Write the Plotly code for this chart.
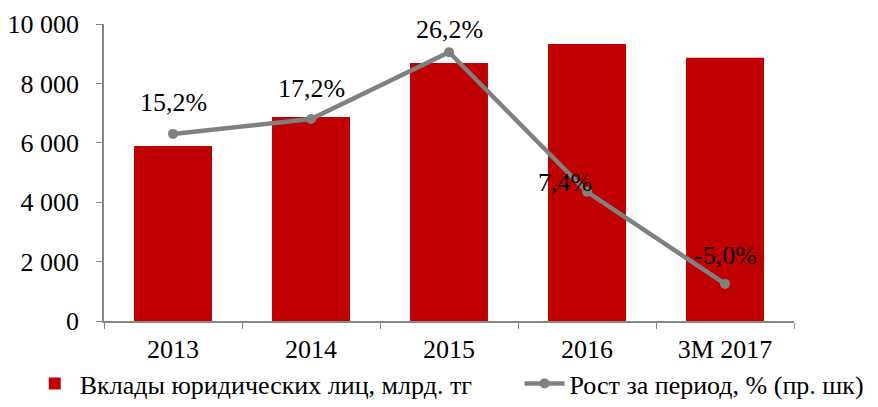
import plotly.graph_objects as go

categories = ["2013", "2014", "2015", "2016", "3M 2017"]
deposits = [5890, 6870, 8690, 9330, 8860]
growth = [15.2, 17.2, 26.2, 7.4, -5.0]

bar_name = "Вклады юридических лиц, млрд. тг"
line_name = "Рост за период, % (пр. шк)"

FONT = "Times New Roman, Liberation Serif, DejaVu Serif, serif"
FS = 26

fig = go.Figure()
fig.add_trace(go.Bar(
    x=categories, y=deposits, name=bar_name,
    marker=dict(color="#C00000", line=dict(width=0)),
    width=0.565, legend="legend",
))
fig.add_trace(go.Scatter(
    x=categories, y=growth, name=line_name, yaxis="y2",
    mode="lines+markers",
    line=dict(color="#808080", width=4.5),
    marker=dict(color="#808080", size=10),
    legend="legend2",
))

shifts = [(0, 31), (0, 31), (0, 23), (-22, 9), (0, 28)]
for i, (g, (dx, dy)) in enumerate(zip(growth, shifts)):
    fig.add_annotation(
        x=i, y=g, yref="y2", xref="x",
        text=f"{g:.1f}%".replace(".", ","),
        showarrow=False, xshift=dx, yshift=dy,
        font=dict(family=FONT, size=FS, color="black"),
    )

legend_common = dict(orientation="h", xref="container", yref="container",
                     y=0.0, yanchor="bottom", xanchor="left",
                     font=dict(family=FONT, size=FS), itemwidth=40,
                     bgcolor="rgba(0,0,0,0)", borderwidth=0)

# page body has an 8px margin, so figure is 870x399 placed at (8, 8)
fig.update_layout(
    width=870, height=399,
    margin=dict(l=96, r=84, t=16, b=86, autoexpand=False),
    plot_bgcolor="white", paper_bgcolor="white",
    separators=", ",
    font=dict(family=FONT, size=FS, color="black"),
    showlegend=True,
    legend=dict(x=0.025, **legend_common),
    legend2=dict(x=0.588, **legend_common),
    xaxis=dict(
        type="category", range=[-0.5, 4.5],
        showline=True, linecolor="#868686", linewidth=1.5,
        ticks="outside", tickson="boundaries", ticklen=6, tickcolor="#868686",
        showgrid=False, tickfont=dict(family=FONT, size=FS),
        ticklabelstandoff=4,
    ),
    yaxis=dict(
        range=[0, 10000], dtick=2000, tickformat=",d",
        showline=True, linecolor="#868686", linewidth=1.5,
        ticks="outside", ticklen=6, tickcolor="#868686",
        showgrid=False, zeroline=False, tickfont=dict(family=FONT, size=FS),
        ticklabelstandoff=12,
    ),
    yaxis2=dict(
        range=[-10, 30], overlaying="y", side="right", visible=False,
        showgrid=False, zeroline=False,
    ),
)

fig.write_html("out.html")
